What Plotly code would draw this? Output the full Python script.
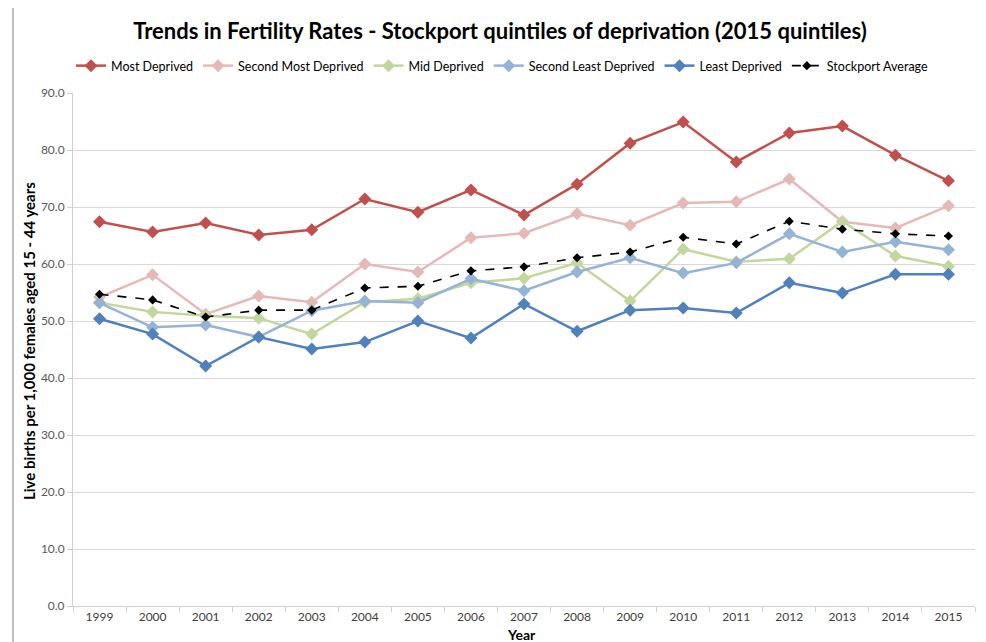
import plotly.graph_objects as go

years = [str(y) for y in range(1999, 2016)]
most_deprived = [67.4, 65.6, 67.2, 65.1, 66.0, 71.4, 69.1, 73.0, 68.6, 74.0, 81.2, 84.9, 77.9, 83.0, 84.2, 79.1, 74.6]
second_most = [54.2, 58.1, 51.2, 54.4, 53.3, 60.0, 58.6, 64.6, 65.4, 68.8, 66.8, 70.7, 70.9, 74.9, 67.4, 66.3, 70.2]
mid_deprived = [53.2, 51.6, 50.9, 50.5, 47.7, 53.3, 53.9, 56.7, 57.5, 60.2, 53.5, 62.6, 60.4, 60.9, 67.5, 61.4, 59.6]
second_least = [53.2, 48.9, 49.3, 47.2, 51.8, 53.5, 53.2, 57.4, 55.3, 58.6, 61.1, 58.4, 60.2, 65.3, 62.1, 63.9, 62.5]
least_deprived = [50.4, 47.7, 42.1, 47.2, 45.1, 46.3, 50.0, 47.0, 53.0, 48.2, 51.9, 52.3, 51.4, 56.7, 54.9, 58.2, 58.2]
stockport_avg = [54.7, 53.7, 50.7, 51.9, 51.9, 55.8, 56.1, 58.8, 59.5, 61.1, 62.1, 64.7, 63.5, 67.5, 66.1, 65.3, 64.9]

series = [
    ("Most Deprived", most_deprived, "#C0504D", "solid", 2.5, 10),
    ("Second Most Deprived", second_most, "#E6B9B8", "solid", 2.5, 10),
    ("Mid Deprived", mid_deprived, "#C3D69B", "solid", 2.5, 10),
    ("Second Least Deprived", second_least, "#95B3D7", "solid", 2.5, 10),
    ("Least Deprived", least_deprived, "#4F81BD", "solid", 2.5, 10),
    ("Stockport Average", stockport_avg, "#000000", "dash", 1.6, 7),
]

FW, FH = 978, 634
L, R, T, B = 65, 11, 85, 36
PW, PH = FW - L - R, FH - T - B

fig = go.Figure()
for name, vals, color, dash, w, ms in series:
    fig.add_trace(go.Scatter(
        x=years, y=vals, name=name, mode="lines+markers",
        line=dict(color=color, width=w, dash=dash),
        marker=dict(symbol="diamond", size=ms, color=color),
    ))

fig.update_layout(
    width=FW, height=FH,
    margin=dict(l=L, r=R, t=T, b=B, autoexpand=False),
    paper_bgcolor="white", plot_bgcolor="white",
    font=dict(family="Lato, Liberation Sans, sans-serif", color="#404040", size=12),
    title=dict(text="<b>Trends in Fertility Rates - Stockport quintiles of deprivation (2015 quintiles)</b>",
               x=(500 - 8) / FW, xanchor="center", y=1 - 23/FH, yanchor="middle", yref="container",
               font=dict(size=22, color="#000000", family="Lato, Liberation Sans, sans-serif")),
    legend=dict(orientation="h", x=-2/PW, xanchor="left", y=(PH + T - 58) / PH, yanchor="middle",
                font=dict(size=12.5, color="#000000"), bgcolor="rgba(0,0,0,0)", itemwidth=30,
                tracegroupgap=0),
    showlegend=True,
    shapes=[dict(type="line", xref="paper", yref="paper",
                 x0=(5 - L)/PW, x1=(5 - L)/PW, y0=-B/PH, y1=(PH + T)/PH,
                 line=dict(color="#808080", width=1))],
    annotations=[
        dict(text="<b>Year</b>", xref="paper", yref="paper", x=(521 - 8 - L)/PW, y=-(626 - (T + PH))/PH,
             xanchor="center", yanchor="middle", showarrow=False,
             font=dict(size=14, color="#000000")),
        dict(text="<b>Live births per 1,000 females aged 15 - 44 years</b>", xref="paper", yref="paper",
             x=(21 - L)/PW, y=(PH - (341 - 8 - T))/PH, textangle=-90,
             xanchor="center", yanchor="middle", showarrow=False,
             font=dict(size=15, color="#000000")),
    ],
)
fig.update_xaxes(
    type="category", range=[-0.5, 16.5], automargin=False,
    showline=True, linecolor="#D0D0D0", linewidth=1,
    ticks="outside", tickson="boundaries", ticklen=5, tickcolor="#D0D0D0",
    showgrid=False, tickfont=dict(size=12, color="#404040"),
)
fig.update_yaxes(
    range=[0, 90], dtick=10, tickformat=".1f", automargin=False,
    showline=True, linecolor="#D0D0D0", linewidth=1,
    ticks="outside", ticklen=5, tickcolor="#D0D0D0",
    showgrid=True, gridcolor="#D9D9D9", gridwidth=1, zeroline=False,
    tickfont=dict(size=12, color="#595959"),
)

fig.write_html("out.html")
